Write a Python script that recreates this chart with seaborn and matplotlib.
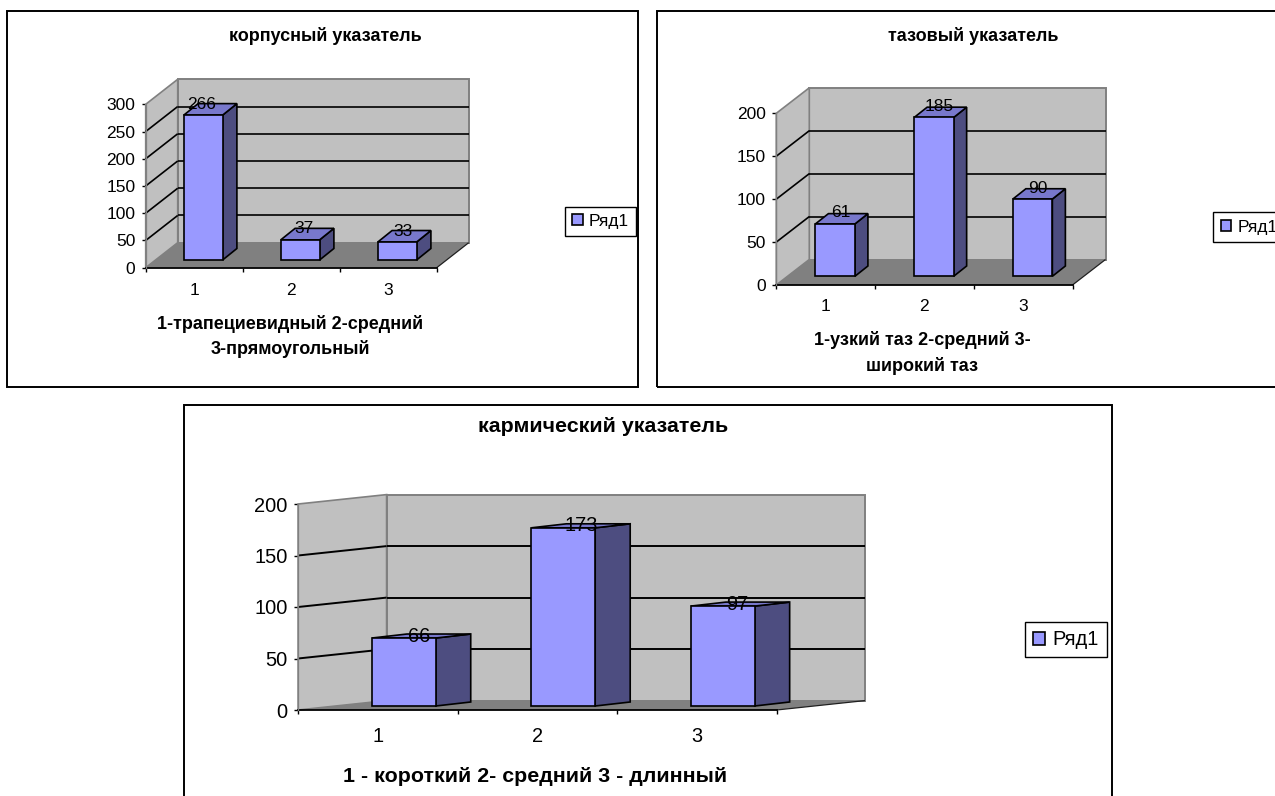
import numpy as np
import matplotlib
matplotlib.use('Agg')
import matplotlib.pyplot as plt
import seaborn as sns
from matplotlib.patches import Patch, Polygon, Rectangle
from matplotlib.transforms import Affine2D, IdentityTransform

# ---------- data ----------
categories = ['1', '2', '3']
series_name = 'Ряд1'

body_values = [266, 37, 33]
pelvis_values = [61, 185, 90]
karmic_values = [66, 173, 97]

body_title = 'корпусный указатель'
pelvis_title = 'тазовый указатель'
karmic_title = 'кармический указатель'

body_xlabel = '1-трапециевидный 2-средний\n3-прямоугольный'
pelvis_xlabel = '1-узкий таз 2-средний 3-\nширокий таз'
karmic_xlabel = '1 - короткий 2- средний 3 - длинный'

# ---------- colours ----------
WALL = '#C0C0C0'
FLOOR = '#808080'
FRONT = '#9999FF'
SIDE = '#4D4D80'
TOP = '#7878CC'

W, H = 1275, 796

sns.set_style('white')
plt.rcParams['font.family'] = ['Liberation Sans', 'DejaVu Sans']
plt.rcParams['text.color'] = 'black'
plt.rcParams['axes.labelcolor'] = 'black'
plt.rcParams['axes.titlecolor'] = 'black'
plt.rcParams['xtick.color'] = 'black'
plt.rcParams['ytick.color'] = 'black'

fig = plt.figure(figsize=(W / 100, H / 100), dpi=100, facecolor='white')


def to_fig(x, y):
    return x / W, 1 - y / H


def draw_chart(values, title, xlabel, ymax, step, frame, x_span, y_span, depth,
               bar_off, bar_depth, label_off, label_up, title_xy, xlabel_xy,
               legend_xy, size, title_size, x_pad, legend_pad, grid_lw):
    # frame round the chart
    fx0, fy0, fx1, fy1 = frame
    fig.add_artist(Rectangle(to_fig(fx0, fy1), (fx1 - fx0) / W, (fy1 - fy0) / H,
                             transform=fig.transFigure, fill=False,
                             ec='black', lw=1.4))

    # the axes is the front plane of the 3D box
    ax = fig.add_axes([x_span[0] / W, 1 - y_span[0] / H,
                       (x_span[1] - x_span[0]) / W, (y_span[0] - y_span[1]) / H])
    ax.set_facecolor('none')

    sns.barplot(x=categories, y=values, ax=ax, color=FRONT, saturation=1,
                width=0.40, edgecolor='black', linewidth=1.2, zorder=4)
    ax.set_xlim(-0.5, 2.5)
    ax.set_ylim(0, ymax)

    dx, dy = depth
    px = ax.transData.transform

    def poly(points, zorder, **kw):
        ax.add_patch(Polygon(points, closed=True, transform=IdentityTransform(),
                             clip_on=False, zorder=zorder, **kw))

    def line(a, b, zorder, color='black', lw=1.0):
        ax.plot([a[0], b[0]], [a[1], b[1]], transform=IdentityTransform(),
                color=color, lw=lw, clip_on=False, zorder=zorder,
                solid_capstyle='butt')

    # walls and floor
    lb = px((-0.5, 0))
    rb = px((2.5, 0))
    lt = px((-0.5, ymax))
    rt = px((2.5, ymax))
    shift = np.array([dx, dy])
    poly([lb + shift, rb + shift, rt + shift, lt + shift], 1, fc=WALL,
         ec=FLOOR, lw=1.4)
    poly([lb, lb + shift, lt + shift, lt], 1, fc=WALL, ec=FLOOR, lw=1.2)
    poly([lb, rb, rb + shift, lb + shift], 1.2, fc=FLOOR, ec='none')
    line(rb, rb + shift, 1.3, color='#202020', lw=0.9)

    # gridlines on side wall and back wall
    for v in np.arange(step, ymax, step):
        left = px((-0.5, v))
        right = px((2.5, v))
        line(left, left + shift, 1.5, lw=grid_lw)
        line(left + shift, right + shift, 1.5, lw=grid_lw)

    # bars: front faces come from seaborn, pushed in to mid depth
    off = Affine2D().translate(*bar_off)
    bdx, bdy = bar_depth
    bd = np.array([bdx, bdy])
    for i, (bar, v) in enumerate(zip(ax.patches[:len(values)], values)):
        bar.set_transform(ax.transData + off)
        bar.set_clip_on(False)
        x0 = bar.get_x()
        x1 = x0 + bar.get_width()
        a = px((x0, v)) + bar_off
        b = px((x1, v)) + bar_off
        c = px((x1, 0)) + bar_off
        poly([b, c, c + bd, b + bd], 3, fc=SIDE, ec='black', lw=1.2)
        poly([a, b, b + bd, a + bd], 3, fc=TOP, ec='black', lw=1.2)
        ax.annotate(str(v), ((x0 + x1) / 2, v),
                    xytext=(bar_off[0] + label_off[i], bar_off[1] + label_up),
                    textcoords='offset pixels', ha='center', va='center',
                    fontsize=size, color='black', zorder=6, annotation_clip=False)

    # axes
    sns.despine(ax=ax)
    ax.spines['left'].set_color(FLOOR)
    ax.spines['left'].set_linewidth(0.9)
    ax.spines['bottom'].set_color('black')
    ax.spines['bottom'].set_linewidth(1.3)
    ax.spines['bottom'].set_zorder(2)
    ax.set_xticks([-0.5, 0.5, 1.5, 2.5], labels=[])
    ax.set_xticks([0, 1, 2], labels=categories, minor=True)
    ax.set_yticks(np.arange(0, ymax + 1, step))
    ax.tick_params(axis='x', which='major', length=3, width=1, color='black',
                   bottom=True)
    ax.tick_params(axis='x', which='minor', length=0, pad=x_pad, labelsize=size)
    ax.tick_params(axis='y', length=3, width=1, color='black', left=True,
                   pad=4.5, labelsize=size)
    ax.set_ylabel('')

    # title and axis label placed in figure pixels
    to_axes = ax.transAxes.inverted()
    t = to_axes.transform((title_xy[0], H - title_xy[1]))
    ax.set_title(title, x=t[0], y=t[1], fontsize=title_size, fontweight='bold',
                 va='center', ha='center', pad=0)
    ax.set_xlabel(xlabel, fontsize=title_size, fontweight='bold', linespacing=1.55,
                  va='center', ha='center')
    t = to_axes.transform((xlabel_xy[0], H - xlabel_xy[1]))
    ax.xaxis.set_label_coords(t[0], t[1])

    # legend
    fig.legend(handles=[Patch(fc=FRONT, ec='black', lw=1.2, label=series_name)],
               loc='upper left', bbox_to_anchor=to_fig(*legend_xy),
               frameon=True, fancybox=False, framealpha=1, edgecolor='black',
               fontsize=size, handlelength=0.6, handleheight=0.6,
               handletextpad=0.35, borderaxespad=0, borderpad=legend_pad)
    return ax


draw_chart(body_values, body_title, body_xlabel, 300, 50,
           frame=(7, 11, 638, 386.5), x_span=(145.7, 436.7), y_span=(267.7, 104.3),
           depth=(32, 25), bar_off=(9, 7.7), bar_depth=(14.3, 11.5),
           label_off=[-1.5, 3.5, 6], label_up=11, title_xy=(325, 36),
           xlabel_xy=(290, 336.5), legend_xy=(565.3, 206.7), size=12.5,
           title_size=13, x_pad=11, legend_pad=0.4, grid_lw=1.2)

draw_chart(pelvis_values, pelvis_title, pelvis_xlabel, 200, 50,
           frame=(657, 11, 1290, 386.5), x_span=(776.3, 1072.5), y_span=(285, 113.3),
           depth=(33, 25.5), bar_off=(9.5, 8.7), bar_depth=(13, 10.3),
           label_off=[5.7, 5.7, 5], label_up=11, title_xy=(973.6, 36),
           xlabel_xy=(922, 353), legend_xy=(1213, 211.7), size=12.5,
           title_size=13, x_pad=10, legend_pad=0.45, grid_lw=1.2)

draw_chart(karmic_values, karmic_title, karmic_xlabel, 200, 50,
           frame=(183.5, 405, 1111.5, 810), x_span=(298.1, 776.5), y_span=(710, 504),
           depth=(88.5, 9.4), bar_off=(26, 4), bar_depth=(35, 4),
           label_off=[15, 17.7, 14.7], label_up=2, title_xy=(603.3, 426),
           xlabel_xy=(535, 776), legend_xy=(1025.3, 622.3), size=14.4,
           title_size=15.4, x_pad=12, legend_pad=0.4, grid_lw=1.4)

plt.savefig('out.png', dpi=100, facecolor='white')
plt.close()
